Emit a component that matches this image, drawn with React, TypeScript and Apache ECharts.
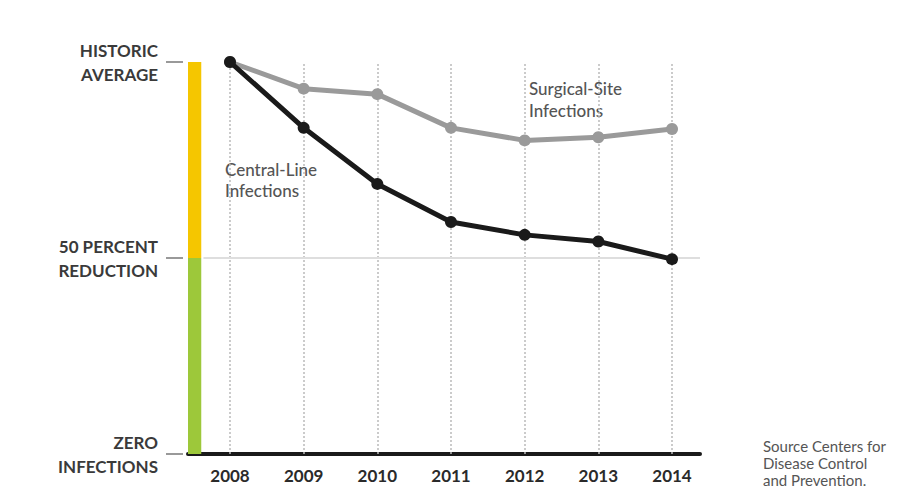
import React, { useEffect, useRef } from "react";
import * as echarts from "echarts";

const years = [2008, 2009, 2010, 2011, 2012, 2013, 2014];
const centralLine = [100, 83.2, 68.9, 59.2, 55.9, 54.2, 49.7];
const surgicalSite = [100, 93.2, 91.8, 83.2, 80.0, 80.8, 82.9];
const yLabels: Record<number, string> = {
  100: "HISTORIC\nAVERAGE",
  50: "50 PERCENT\nREDUCTION",
  0: "ZERO\nINFECTIONS",
};
const historicRange = [50, 100];
const reducedRange = [0, 50];

const FONT = "Lato, 'Noto Sans', sans-serif";
const X_MIN = 2007.43;
const X_MAX = 2014.38;
const BAR_END = 2007.61;

export default function App() {
  const ref = useRef<HTMLDivElement>(null);
  useEffect(() => {
    if (!ref.current) return;
    const chart = echarts.init(ref.current, undefined, { renderer: "svg" });
    chart.setOption({
      animation: false,
      backgroundColor: "#ffffff",
      textStyle: { fontFamily: FONT },
      grid: { left: 188, right: 207, top: 62, bottom: 35 },
      xAxis: {
        type: "value",
        min: X_MIN,
        max: X_MAX,
        axisLine: { show: true, lineStyle: { color: "#1a1a1a", width: 4 } },
        axisTick: { show: false },
        splitLine: { show: false },
        axisLabel: {
          customValues: years,
          formatter: (v: number) => String(Math.round(v)),
          margin: 13,
          fontSize: 17,
          fontWeight: "bold",
          color: "#2a2a2a",
          fontFamily: FONT,
        },
      },
      yAxis: {
        type: "value",
        min: 0,
        max: 100,
        interval: 50,
        offset: 5,
        axisLine: { show: false },
        axisTick: { show: true, length: 17, lineStyle: { color: "#999", width: 2 } },
        splitLine: { show: false },
        axisLabel: {
          formatter: (v: number) => yLabels[v] ?? "",
          margin: 25,
          fontSize: 17,
          fontWeight: "bold",
          lineHeight: 24,
          align: "right",
          color: "#3a3a3a",
          fontFamily: FONT,
        },
      },
      series: [
        {
          type: "line",
          name: "Decorations",
          data: [],
          silent: true,
          z: 1,
          markArea: {
            silent: true,
            z: 1,
            label: { show: false },
            data: [
              [
                { xAxis: X_MIN, yAxis: historicRange[0], itemStyle: { color: "#F5C600", opacity: 1 } },
                { xAxis: BAR_END, yAxis: historicRange[1] },
              ],
              [
                { xAxis: X_MIN, yAxis: reducedRange[0], itemStyle: { color: "#9DC83A", opacity: 1 } },
                { xAxis: BAR_END, yAxis: reducedRange[1] },
              ],
            ],
          },
          markLine: {
            silent: true,
            z: 1,
            symbol: "none",
            label: { show: false },
            data: [
              ...years.map((y) => ({
                xAxis: y,
                lineStyle: { color: "#bbb", type: [2, 2], width: 1.5 },
              })),
              [
                { coord: [2007.64, 50], lineStyle: { color: "#dedede", type: "solid", width: 2 } },
                { coord: [X_MAX, 50] },
              ],
            ],
          },
        },
        {
          type: "line",
          name: "Surgical-Site Infections",
          data: years.map((y, i) => [y, surgicalSite[i]]),
          symbol: "circle",
          symbolSize: 12,
          showAllSymbol: true,
          lineStyle: { color: "#9a9a9a", width: 5 },
          itemStyle: { color: "#9a9a9a", borderColor: "#9a9a9a", borderWidth: 0, opacity: 1 },
          z: 3,
        },
        {
          type: "line",
          name: "Central-Line Infections",
          data: years.map((y, i) => [y, centralLine[i]]),
          symbol: "circle",
          symbolSize: 12,
          showAllSymbol: true,
          lineStyle: { color: "#1a1a1a", width: 5 },
          itemStyle: { color: "#1a1a1a", borderColor: "#1a1a1a", borderWidth: 0, opacity: 1 },
          z: 4,
        },
      ],
      graphic: [
        {
          type: "text",
          left: 225,
          top: 159,
          style: {
            text: "Central-Line\nInfections",
            font: `500 17px ${FONT}`,
            lineHeight: 21,
            fill: "#555",
          },
        },
        {
          type: "text",
          left: 529,
          top: 77,
          style: {
            text: "Surgical-Site\nInfections",
            font: `500 17px ${FONT}`,
            lineHeight: 22,
            fill: "#555",
          },
        },
        {
          type: "text",
          left: 763,
          top: 437,
          style: {
            text: "Source Centers for\nDisease Control\nand Prevention.",
            font: `15px ${FONT}`,
            lineHeight: 17,
            fill: "#555",
          },
        },
      ],
    });
    return () => chart.dispose();
  }, []);
  return (
    <div
      ref={ref}
      style={{ position: "fixed", left: 0, top: 0, width: 907, height: 489, background: "#fff" }}
    />
  );
}
